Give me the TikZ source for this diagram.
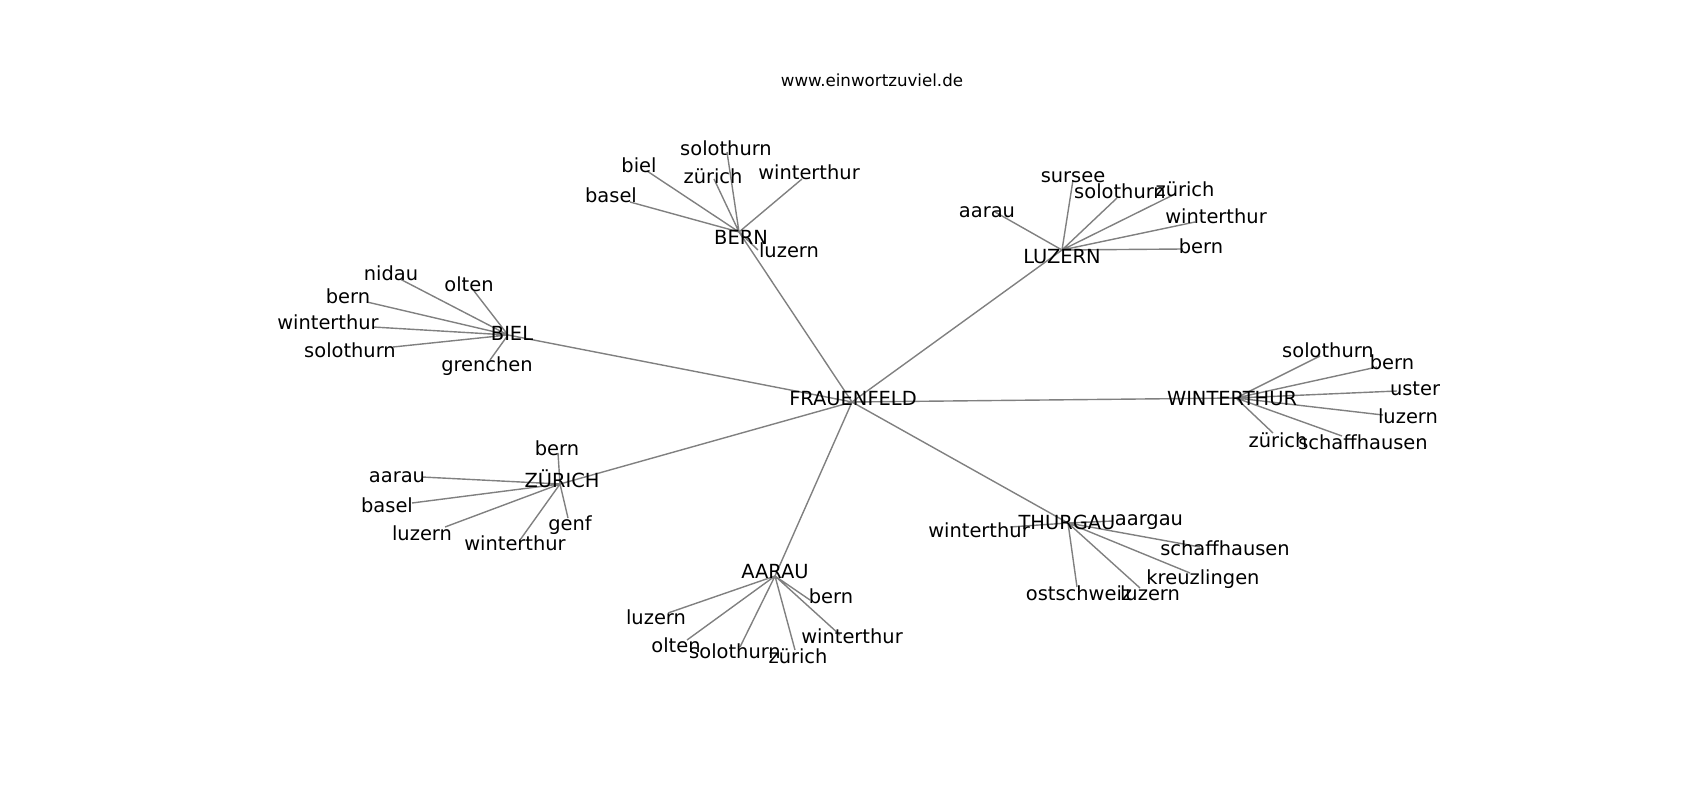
\documentclass[tikz,border=0pt]{standalone}
\usepackage{fontspec}
\setmainfont{DejaVu Sans}
\usetikzlibrary{backgrounds}

\begin{document}
\begin{tikzpicture}[x=1pt,
y=-1pt,
every node/.style={
inner sep=0pt,
outer sep=0pt,
},
vtx/.style={
minimum size=0pt,
},
lbl/.style={
font=\fontsize{19.44}{23}\selectfont,
text height=14.8pt,
text depth=4.7pt,
anchor=center,
},
edge/.style={
draw=black!50,
line width=1.4pt,
}]

\path[use as bounding box] (0,0) rectangle (1700,800);

%title
\node[font=\fontsize{16.67}{20}\selectfont,text height=12.7pt,text depth=4pt] (title) at (872,82) {www.einwortzuviel.de};

%centre
\node[vtx,label={[lbl,shift={(1,-2)}]center:FRAUENFELD}] (frauenfeld) at (852,402) {};

%Bern
\node[vtx,label={[lbl,shift={(2,7)}]center:BERN}] (bern) at (739,232) {};
\node[vtx,label={[lbl,shift={(-19,-5)}]center:basel}] (bern-basel) at (630,202) {};
\node[vtx,label={[lbl,shift={(-8,-4)}]center:biel}] (bern-biel) at (647,171) {};
\node[vtx,label={[lbl,shift={(-1,-2)}]center:solothurn}] (bern-solothurn) at (727,152) {};
\node[vtx,label={[lbl,shift={(-1,-1)}]center:zürich}] (bern-zuerich) at (714,179) {};
\node[vtx,label={[lbl,shift={(7,-5)}]center:winterthur}] (bern-winterthur) at (802,179) {};
\node[vtx,label={[lbl,shift={(31,2)}]center:luzern}] (bern-luzern) at (758,250) {};

%Luzern
\node[vtx,label={[lbl,shift={(0,8)}]center:LUZERN}] (luzern) at (1062,250) {};
\node[vtx,label={[lbl,shift={(-8,0)}]center:aarau}] (luzern-aarau) at (995,212) {};
\node[vtx,label={[lbl,shift={(0,-3)}]center:sursee}] (luzern-sursee) at (1073,180) {};
\node[vtx,label={[lbl,shift={(3,-5)}]center:solothurn}] (luzern-solothurn) at (1117,198) {};
\node[vtx,label={[lbl,shift={(10,-3)}]center:zürich}] (luzern-zuerich) at (1175,194) {};
\node[vtx,label={[lbl,shift={(21,-4)}]center:winterthur}] (luzern-winterthur) at (1195,222) {};
\node[vtx,label={[lbl,shift={(18,-1)}]center:bern}] (luzern-bern) at (1183,249) {};

%Biel
\node[vtx,label={[lbl,shift={(4,0)}]center:BIEL}] (biel) at (508,335) {};
\node[vtx,label={[lbl,shift={(-9,-4)}]center:nidau}] (biel-nidau) at (400,279) {};
\node[vtx,label={[lbl,shift={(-5,-5)}]center:olten}] (biel-olten) at (474,291) {};
\node[vtx,label={[lbl,shift={(-19,-4)}]center:bern}] (biel-bern) at (367,302) {};
\node[vtx,label={[lbl,shift={(-45,-3)}]center:winterthur}] (biel-winterthur) at (373,327) {};
\node[vtx,label={[lbl,shift={(-43,5)}]center:solothurn}] (biel-solothurn) at (393,347) {};
\node[vtx,label={[lbl,shift={(-3,6)}]center:grenchen}] (biel-grenchen) at (490,360) {};

%Winterthur
\node[vtx,label={[lbl,shift={(-4,2)}]center:WINTERTHUR}] (winterthur) at (1236,398) {};
\node[vtx,label={[lbl,shift={(8,-4)}]center:solothurn}] (winterthur-solothurn) at (1320,356) {};
\node[vtx,label={[lbl,shift={(15,-3)}]center:bern}] (winterthur-bern) at (1377,367) {};
\node[vtx,label={[lbl,shift={(18,-1)}]center:uster}] (winterthur-uster) at (1397,391) {};
\node[vtx,label={[lbl,shift={(25,3)}]center:luzern}] (winterthur-luzern) at (1383,415) {};
\node[vtx,label={[lbl,shift={(5,9)}]center:zürich}] (winterthur-zuerich) at (1273,433) {};
\node[vtx,label={[lbl,shift={(21,8)}]center:schaffhausen}] (winterthur-schaffhausen) at (1342,436) {};

%Zuerich
\node[vtx,label={[lbl,shift={(2,-2)}]center:ZÜRICH}] (zuerich) at (560,484) {};
\node[vtx,label={[lbl,shift={(-1,-3)}]center:bern}] (zuerich-bern) at (558,453) {};
\node[vtx,label={[lbl,shift={(-25,0)}]center:aarau}] (zuerich-aarau) at (422,477) {};
\node[vtx,label={[lbl,shift={(-25,4)}]center:basel}] (zuerich-basel) at (412,503) {};
\node[vtx,label={[lbl,shift={(-23,8)}]center:luzern}] (zuerich-luzern) at (445,527) {};
\node[vtx,label={[lbl,shift={(-5,5)}]center:winterthur}] (zuerich-winterthur) at (520,540) {};
\node[vtx,label={[lbl,shift={(2,7)}]center:genf}] (zuerich-genf) at (568,518) {};

%Thurgau
\node[vtx,label={[lbl,shift={(-1,1)}]center:THURGAU}] (thurgau) at (1068,523) {};
\node[vtx,label={[lbl,shift={(-31,5)}]center:winterthur}] (thurgau-winterthur) at (1010,527) {};
\node[vtx,label={[lbl,shift={(36,-1)}]center:aargau}] (thurgau-aargau) at (1113,521) {};
\node[vtx,label={[lbl,shift={(25,3)}]center:schaffhausen}] (thurgau-schaffhausen) at (1200,547) {};
\node[vtx,label={[lbl,shift={(13,6)}]center:kreuzlingen}] (thurgau-kreuzlingen) at (1190,573) {};
\node[vtx,label={[lbl,shift={(2,8)}]center:ostschweiz}] (thurgau-ostschweiz) at (1077,587) {};
\node[vtx,label={[lbl,shift={(10,7)}]center:luzern}] (thurgau-luzern) at (1140,588) {};

%Aarau
\node[vtx,label={[lbl,shift={(0,-3)}]center:AARAU}] (aarau) at (775,576) {};
\node[vtx,label={[lbl,shift={(21,-2)}]center:bern}] (aarau-bern) at (810,600) {};
\node[vtx,label={[lbl,shift={(-12,6)}]center:luzern}] (aarau-luzern) at (668,613) {};
\node[vtx,label={[lbl,shift={(-11,7)}]center:olten}] (aarau-olten) at (687,640) {};
\node[vtx,label={[lbl,shift={(-5,6)}]center:solothurn}] (aarau-solothurn) at (740,647) {};
\node[vtx,label={[lbl,shift={(3,8)}]center:zürich}] (aarau-zuerich) at (795,650) {};
\node[vtx,label={[lbl,shift={(12,3)}]center:winterthur}] (aarau-winterthur) at (840,635) {};

%edges, under the text
\begin{scope}[on background layer]
\draw[edge] (frauenfeld) -- (bern) (frauenfeld) -- (luzern) (frauenfeld) -- (biel) (frauenfeld) -- (winterthur)
  (frauenfeld) -- (zuerich) (frauenfeld) -- (thurgau) (frauenfeld) -- (aarau);
\draw[edge] (bern) -- (bern-basel) (bern) -- (bern-biel) (bern) -- (bern-solothurn) (bern) -- (bern-zuerich)
  (bern) -- (bern-winterthur) (bern) -- (bern-luzern);
\draw[edge] (luzern) -- (luzern-aarau) (luzern) -- (luzern-sursee) (luzern) -- (luzern-solothurn) (luzern) -- (luzern-zuerich)
  (luzern) -- (luzern-winterthur) (luzern) -- (luzern-bern);
\draw[edge] (biel) -- (biel-nidau) (biel) -- (biel-olten) (biel) -- (biel-bern) (biel) -- (biel-winterthur)
  (biel) -- (biel-solothurn) (biel) -- (biel-grenchen);
\draw[edge] (winterthur) -- (winterthur-solothurn) (winterthur) -- (winterthur-bern) (winterthur) -- (winterthur-uster)
  (winterthur) -- (winterthur-luzern) (winterthur) -- (winterthur-zuerich) (winterthur) -- (winterthur-schaffhausen);
\draw[edge] (zuerich) -- (zuerich-bern) (zuerich) -- (zuerich-aarau) (zuerich) -- (zuerich-basel) (zuerich) -- (zuerich-luzern)
  (zuerich) -- (zuerich-winterthur) (zuerich) -- (zuerich-genf);
\draw[edge] (thurgau) -- (thurgau-winterthur) (thurgau) -- (thurgau-aargau) (thurgau) -- (thurgau-schaffhausen)
  (thurgau) -- (thurgau-kreuzlingen) (thurgau) -- (thurgau-ostschweiz) (thurgau) -- (thurgau-luzern);
\draw[edge] (aarau) -- (aarau-bern) (aarau) -- (aarau-luzern) (aarau) -- (aarau-olten) (aarau) -- (aarau-solothurn)
  (aarau) -- (aarau-zuerich) (aarau) -- (aarau-winterthur);
\end{scope}
\end{tikzpicture}
\end{document}
